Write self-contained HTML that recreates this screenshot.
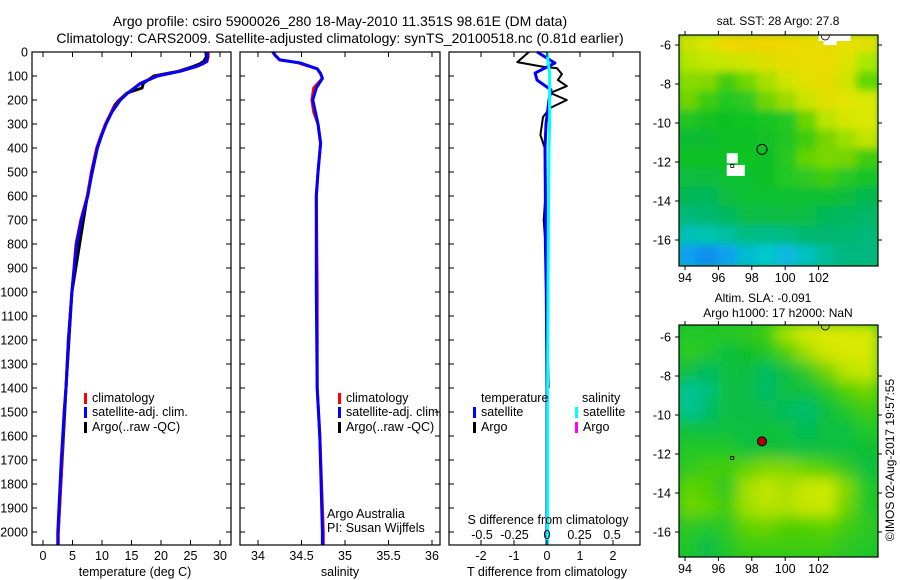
<!DOCTYPE html>
<html><head><meta charset="utf-8"><style>
html,body{margin:0;padding:0;background:#fff}
svg{display:block}
text{font-family:"Liberation Sans",sans-serif;font-size:12.5px;fill:#000}
</style></head><body>
<svg id="fig" width="900" height="580" viewBox="0 0 900 580" xmlns="http://www.w3.org/2000/svg">
<text x="340" y="26" text-anchor="middle" style="font-size:14px">Argo profile: csiro 5900026_280 18-May-2010 11.351S 98.61E (DM data)</text>
<text x="340" y="43" text-anchor="middle" style="font-size:14px">Climatology: CARS2009. Satellite-adjusted climatology: synTS_20100518.nc (0.81d earlier)</text>
<g id="p1"></g>
<g id="p2"></g>
<g id="p3"></g>
<g id="m1"></g>
<g id="m2"></g>
<text x="778" y="25" text-anchor="middle" style="font-size:12px">sat. SST: 28 Argo: 27.8</text>
<text x="763" y="302" text-anchor="middle" style="font-size:12px">Altim. SLA: -0.091</text>
<text x="778" y="317" text-anchor="middle" style="font-size:12px">Argo h1000: 17 h2000: NaN</text>
<text transform="translate(894,460) rotate(-90)" text-anchor="middle" style="font-size:12px">©IMOS 02-Aug-2017 19:57:55</text>
</svg>
<script>
// ---- data ----
const depthTicks=[0,100,200,300,400,500,600,700,800,900,1000,1100,1200,1300,1400,1500,1600,1700,1800,1900,2000];
const tempTicks=[0,5,10,15,20,25,30];
const salTicks=[34,34.5,35,35.5,36];
const tdiffTicks=[-2,-1,0,1,2];
const sdiffTicks=[-0.5,-0.25,0,0.25,0.5];
const sdiffTickLabels=["-0.5","-0.25","0","0.25","0.5"];
const tDepth=[0,20,40,50,60,80,100,130,170,200,250,300,350,400,500,600,700,800,1000,1200,1400,1500,1700,2000,2055];
const tClim=[28,28,27.8,27,26.1,23.2,19.3,16.5,14.4,13.0,11.6,10.6,9.8,9.1,8.2,7.5,6.4,5.6,4.9,4.3,3.9,3.6,3.2,2.6,2.6];
const tSat=[27.8,27.9,27.7,27,26,23.3,19.4,16.6,14.4,13.1,11.7,10.7,9.9,9.2,8.3,7.6,6.5,5.7,4.9,4.3,3.9,3.6,3.1,2.5,2.5];
const aDepth=[0,20,40,50,60,80,100,130,150,170,200,220,300,400,600,1000,1400,2000];
const tArgo=[27.6,27.7,27.2,26.5,25.5,23.0,18.8,17.0,16.8,14.3,12.9,12.2,10.6,9.2,7.5,4.9,3.9,2.6];
const sDepth=[0,15,33,45,70,90,110,150,200,250,300,380,500,600,1000,1400,1600,2000,2055];
const sClim=[34.17,34.2,34.25,34.46,34.68,34.72,34.74,34.64,34.62,34.64,34.69,34.72,34.69,34.67,34.68,34.68,34.71,34.75,34.75];
const sSat=[34.17,34.2,34.25,34.48,34.68,34.72,34.74,34.67,34.63,34.66,34.69,34.72,34.69,34.67,34.67,34.68,34.71,34.74,34.74];
const dDepth=[0,46,88,117,158,200,300,400,600,800,1000,1400,2000,2055];
const dTSat=[-0.3,0.24,-0.36,-0.3,0.12,0.06,-0.03,-0.06,-0.05,-0.05,-0.02,0,0,0];
const dADepth=[0,42,62,67,92,117,142,171,200,233,271,346,408,600,700,800,1000,1200,1400];
const dTArgo=[-0.55,-0.9,-0.1,0.3,0.45,0.33,0.6,0.1,0.6,0.1,-0.12,-0.2,-0.05,-0.05,-0.1,-0.05,0,0.02,0.05];
const dSSat=[0.0,0.01,0.02,0.02,0.02,0.02,0.02,0.015,0.012,0.01,0.008,0.005,0.005,0.005];
// map colour grids (coarse, 10 cols x 12 rows)
const sstGrid=[
"cde000 d8e600 eed800 eed400 f2d400 eed800 eadc00 e6dc00 e6e000 e2e000",
"b2e400 c2e600 c8e600 d0e400 dce000 e6dc00 e8dc00 eadc00 dce400 aae800",
"88dc00 84d800 44cc10 70d800 a8e000 d0e400 e2e000 e6dc00 d0e400 60d800",
"70d400 40cc10 20c820 30c820 70d400 9cdc00 c8e400 e0e000 e2e400 d8e800",
"20c424 12c024 10c024 10c424 14c424 20c820 6cd400 b8e400 d4e600 dce800",
"10bc30 10bc30 10c028 10c028 12c028 20c424 40cc10 78d400 9ce000 c0e400",
"10c028 10c028 10c028 10c424 10c028 28c820 60d400 78d800 74d400 40cc10",
"10bc40 10bc3c 10c030 10c030 10c028 20c824 30c820 40cc10 28c820 12c428",
"00b854 00b85c 10bc40 10c030 10c030 10c030 10c030 10c030 10bc3c 00b850",
"00b87c 00b870 00b860 10bc48 10bc44 10bc40 10bc44 00b858 00b860 00b868",
"00c0b8 00c4b0 00c0a0 00bc80 00bc88 00bc80 00b870 00b870 00b870 00b878",
"10a0f0 1090ee 10a0ee 00bcd0 00c8d0 10b8e0 00c0c0 00bc98 00b880 00b880"];
const slaGrid=[
"20c828 20c828 28c820 30c820 40cc10 a8e400 d8e800 e0e800 dce800 d8e800",
"30cc20 20c828 10c040 10c028 20c824 50d000 a0e000 d0e600 dce800 d8e800",
"10c040 00bc60 10c040 10bc40 00bc60 10c040 30c820 70d400 b8e400 c8e800",
"00c498 00c080 10c040 10bc48 00bc68 10c040 10c040 20c824 50d000 70d400",
"00c498 00bc70 10c040 10bc48 10bc48 00bc60 00bc70 10c040 20c828 40cc10",
"10c040 10c040 10c040 10c040 10c040 10c040 00bc58 10c040 10c040 20c828",
"20c828 20c828 20c828 10c040 10c030 10c040 10c040 10c040 10c040 10c030",
"30c820 40cc10 40cc10 60d400 80d800 80d800 60d400 50d000 30c820 10c040",
"60d400 50d000 30c820 a0e000 c4e400 a8e000 c8e600 ccea00 80d800 20c828",
"70d400 60d400 40cc10 a0e000 b8e400 b0e000 c8e600 c8e800 70d400 20c828",
"30c820 20c828 30c820 60d400 70d400 50d000 50d000 60d400 40cc10 30c820",
"20c828 10bc48 20c828 40cc10 40cc10 40cc10 40cc10 40cc10 30c820 20c828"];
const mapXTicks=[94,96,98,100,102];
const mapYTicks=[-6,-8,-10,-12,-14,-16];
const argoLon=98.61, argoLat=-11.351;

// ---- helpers ----
const NS="http://www.w3.org/2000/svg";
function mk(tag,attrs,parent,txt){const e=document.createElementNS(NS,tag);for(const k in attrs)e.setAttribute(k,attrs[k]);if(txt!==undefined)e.textContent=txt;parent.appendChild(e);return e;}
const yD=d=>52+d*0.24;
function poly(parent,xs,ds,xf,color,w,name){
  const pts=xs.map((v,i)=>xf(v).toFixed(1)+","+yD(ds[i]).toFixed(1)).join(" ");
  const p=mk("polyline",{points:pts,fill:"none",stroke:color,"stroke-width":w,"stroke-linejoin":"round"},parent);
  
  
}
function frame(parent,x0,x1,y0,y1){
  const r=mk("rect",{x:x0,y:y0,width:x1-x0,height:y1-y0,fill:"none",stroke:"#000","stroke-width":1.2},parent);
  
  
}
function xTicks(parent,ticks,labels,xf,y0,y1,ly,name){
  ticks.forEach((t,i)=>{const x=xf(t);
    mk("line",{x1:x,x2:x,y1:y1,y2:y1-5,stroke:"#000"},parent);
    mk("line",{x1:x,x2:x,y1:y0,y2:y0+5,stroke:"#000"},parent);
    const tx=mk("text",{x:x,y:ly,"text-anchor":"middle"},parent,labels[i]);
    
    
  });
}
function yTicksD(parent,x0,x1,labels){
  depthTicks.forEach(d=>{const y=yD(d);
    mk("line",{x1:x0,x2:x0+5,y1:y,y2:y,stroke:"#000"},parent);
    mk("line",{x1:x1,x2:x1-5,y1:y,y2:y,stroke:"#000"},parent);
    if(labels){const t=mk("text",{x:28,y:y+4.5,"text-anchor":"end"},parent,String(d));
      
      }
  });
}
function legend(parent,x,y,color,label){
  mk("rect",{x:x,y:y-9,width:3,height:11,fill:color},parent);
  const t=mk("text",{x:x+8,y:y},parent,label);
  
  
}
const TOP=52,BOT=545;

// ---- panel 1 temperature ----
const p1=document.getElementById("p1");
const xT=v=>43+v*5.9;
const cp1=mk("clipPath",{id:"c1"},p1);
mk("rect",{x:32,y:TOP,width:199,height:BOT-TOP},cp1);
const c1=mk("g",{"clip-path":"url(#c1)"},p1);
poly(c1,tArgo,aDepth,xT,"#000",3,"argo-temperature-line");
poly(c1,tClim,tDepth,xT,"#f00",3,"climatology-temperature-line");
poly(c1,tSat,tDepth,xT,"#00f",3,"satellite-temperature-line");
frame(p1,32,231,TOP,BOT);
yTicksD(p1,32,231,true);
xTicks(p1,tempTicks,tempTicks.map(String),xT,TOP,BOT,560,"temperature-tick-label");
mk("text",{x:135,y:576,"text-anchor":"middle",},p1,"temperature (deg C)");
legend(p1,84,402,"#f00","climatology");
legend(p1,84,416,"#00f","satellite-adj. clim.");
legend(p1,84,431,"#000","Argo(..raw -QC)");

// ---- panel 2 salinity ----
const p2=document.getElementById("p2");
const xS=v=>258+(v-34)*87;
poly(p2,sClim,sDepth,xS,"#f00",3,"climatology-salinity-line");
poly(p2,sSat,sDepth,xS,"#00f",3,"satellite-salinity-line");
frame(p2,240,440,TOP,BOT);
yTicksD(p2,240,440,false);
xTicks(p2,salTicks,["34","34.5","35","35.5","36"],xS,TOP,BOT,560,"salinity-tick-label");
mk("text",{x:340,y:576,"text-anchor":"middle",},p2,"salinity");
legend(p2,338,402,"#f00","climatology");
legend(p2,338,416,"#00f","satellite-adj. clim.");
legend(p2,338,431,"#000","Argo(..raw -QC)");
mk("text",{x:327,y:518,},p2,"Argo Australia");
mk("text",{x:327,y:532,},p2,"PI: Susan Wijffels");

// ---- panel 3 differences ----
const p3=document.getElementById("p3");
const xD=v=>547+v*33;
const xSD=v=>547+v*130;
poly(p3,dTArgo,dADepth,xD,"#000",2,"argo-temperature-difference-line");
poly(p3,dTSat,dDepth,xD,"#00f",3,"satellite-temperature-difference-line");
poly(p3,dSSat,dDepth,xSD,"#0ff",3,"satellite-salinity-difference-line");
frame(p3,449,640,TOP,BOT);
yTicksD(p3,449,640,false);
xTicks(p3,tdiffTicks,tdiffTicks.map(String),xD,TOP,BOT,560,"t-difference-tick-label");
sdiffTicks.forEach((t,i)=>{const s=mk("text",{x:xSD(t),y:539,"text-anchor":"middle"},p3,sdiffTickLabels[i]);
  
  });
mk("text",{x:548,y:524,"text-anchor":"middle",},p3,"S difference from climatology");
mk("text",{x:547,y:576,"text-anchor":"middle",},p3,"T difference from climatology");
mk("text",{x:481,y:402,},p3,"temperature");
mk("text",{x:582,y:402,},p3,"salinity");
legend(p3,473,416,"#00f","satellite");
legend(p3,473,431,"#000","Argo");
legend(p3,575,416,"#0ff","satellite");
legend(p3,575,431,"#f0f","Argo");

// ---- maps ----
function drawMap(g,grid,x0,x1,y0,y1,ySc,yOff,id,filled){
  const lon=v=>685+(v-94)*16.7;
  const lat=v=>yOff+(-6-v)*ySc;
  const rows=grid.length, cols=grid[0].split(" ").length;
  const cw=(x1-x0)/cols, ch=(y1-y0)/rows;
  const cp=mk("clipPath",{id:id},g);mk("rect",{x:x0,y:y0,width:x1-x0,height:y1-y0},cp);
  const f=mk("filter",{id:id+"f",x:"-10%",y:"-10%",width:"120%",height:"120%"},g);
  mk("feGaussianBlur",{stdDeviation:filled?7:4},f);
  const inner=mk("g",{"clip-path":"url(#"+id+")"},g);
  mk("rect",{x:x0,y:y0,width:x1-x0,height:y1-y0,fill:"#10c030"},inner);
  const cells=mk("g",{filter:"url(#"+id+"f)"},inner);
  grid.forEach((row,r)=>row.split(" ").forEach((c,k)=>{
    const cell=mk("rect",{x:x0+k*cw-2,y:y0+r*ch-2,width:cw+4,height:ch+4,fill:"#"+c},cells);
    
    
  }));
  if(!filled){
    mk("rect",{x:lon(96.5),y:lat(-11.55),width:11,height:10,fill:"#fff"},inner);
    mk("rect",{x:lon(96.5),y:lat(-12.15),width:18,height:11,fill:"#fff"},inner);
    mk("rect",{x:lon(102),y:y0,width:32,height:6,fill:"#fff"},inner);
    mk("rect",{x:lon(102.3),y:y0,width:13,height:10,fill:"#fff"},inner);
  }
  mk("rect",{x:lon(96.83)-1.5,y:lat(-12.2)-1.5,width:3,height:3,fill:"none",stroke:"#000","stroke-width":0.8},inner);
  mk("circle",{cx:lon(102.4),cy:y0+1,r:4,fill:"none",stroke:"#000","stroke-width":0.8},inner);
  const dot=mk("circle",{cx:lon(argoLon),cy:lat(argoLat),r:filled?4.5:5,fill:filled?"#b00000":"none",stroke:"#000","stroke-width":1},g);
  
  
  frame(g,x0,x1,y0,y1);
  mapXTicks.forEach(t=>{const x=lon(t);
    mk("line",{x1:x,x2:x,y1:y0,y2:y0-4,stroke:"#000"},g);
    mk("line",{x1:x,x2:x,y1:y1,y2:y1+4,stroke:"#000"},g);
    const l=mk("text",{x:x,y:y1+16,"text-anchor":"middle"},g,String(t));
    
    });
  mapYTicks.forEach(t=>{const y=lat(t);
    mk("line",{x1:x0,x2:x0-4,y1:y,y2:y,stroke:"#000"},g);
    mk("line",{x1:x1,x2:x1+4,y1:y,y2:y,stroke:"#000"},g);
    const l=mk("text",{x:x0-8,y:y+4.5,"text-anchor":"end"},g,String(t));
    
    });
}
drawMap(document.getElementById("m1"),sstGrid,679,878,35,266,19.5,45,"mc1",false);
drawMap(document.getElementById("m2"),slaGrid,679,878,325,557,19.5,337,"mc2",true);
</script>
</body></html>
